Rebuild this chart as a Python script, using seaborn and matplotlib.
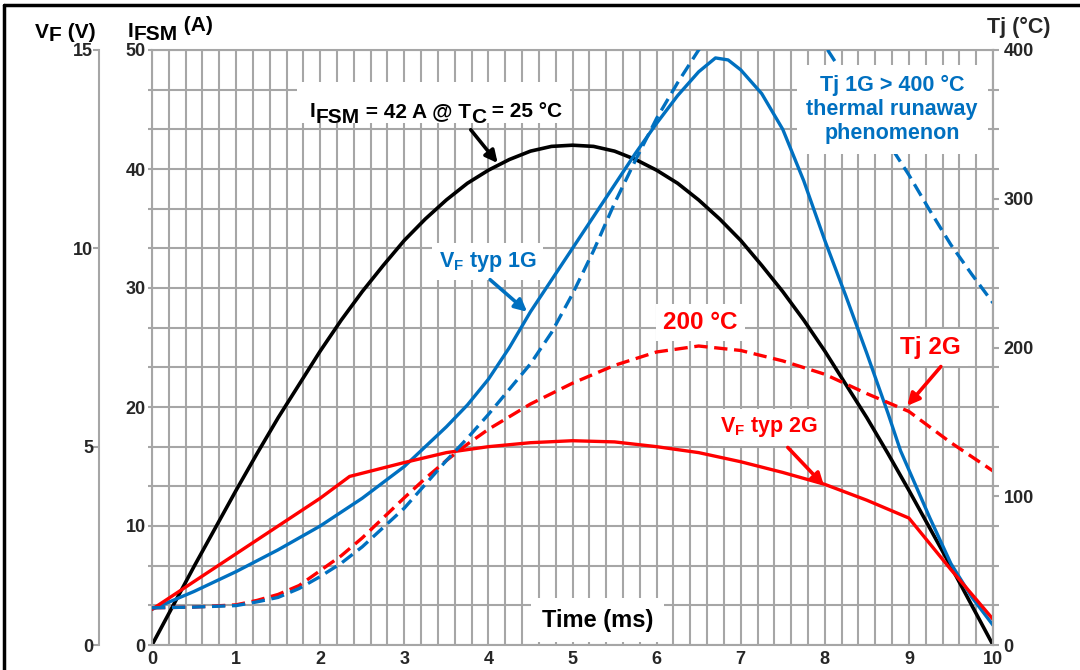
import matplotlib
matplotlib.use("Agg")
import matplotlib.pyplot as plt
from matplotlib.lines import Line2D
from matplotlib.patches import Rectangle
from matplotlib.ticker import MultipleLocator
import seaborn as sns

# ---- data ----
# surge current I_FSM (A) vs time (ms)
t_ifsm = [0, 0.25, 0.5, 0.75, 1, 1.25, 1.5, 1.75, 2, 2.25, 2.5, 2.75, 3, 3.25, 3.5, 3.75,
          4, 4.25, 4.5, 4.75, 5, 5.25, 5.5, 5.75, 6, 6.25, 6.5, 6.75, 7, 7.25, 7.5, 7.75,
          8, 8.25, 8.5, 8.75, 9, 9.25, 9.5, 9.75, 10]
ifsm = [0, 3.3, 6.6, 9.8, 13.0, 16.1, 19.1, 21.9, 24.7, 27.3, 29.7, 31.9, 34.0, 35.8, 37.4, 38.8,
        39.9, 40.8, 41.5, 41.9, 42.0, 41.9, 41.5, 40.8, 39.9, 38.8, 37.4, 35.8, 34.0, 31.9, 29.7, 27.3,
        24.7, 21.9, 19.1, 16.1, 13.0, 9.8, 6.6, 3.3, 0]

# forward voltage 1G (V)
t_vf1 = [0, 0.5, 1, 1.5, 2, 2.5, 3, 3.5, 3.75, 4, 4.25, 4.5, 4.75, 5, 5.25, 5.5, 5.75, 6, 6.25,
         6.5, 6.7, 6.85, 7, 7.25, 7.5, 7.75, 8, 8.25, 8.5, 8.75, 8.9, 9.25, 9.5, 9.75, 10]
vf_1g = [0.9, 1.35, 1.85, 2.4, 3.0, 3.7, 4.5, 5.5, 6.05, 6.7, 7.5, 8.4, 9.2, 10.0, 10.8, 11.6,
         12.4, 13.15, 13.85, 14.45, 14.8, 14.75, 14.5, 13.9, 13.0, 11.7, 10.2, 8.8, 7.35, 5.85,
         4.9, 3.2, 2.05, 1.2, 0.5]

# forward voltage 2G (V)
t_vf2 = [0, 0.5, 1, 1.5, 2, 2.35, 3, 3.5, 4, 4.5, 5, 5.5, 6, 6.5, 7, 7.5, 8, 8.5, 9, 9.5, 10]
vf_2g = [0.9, 1.6, 2.3, 3.0, 3.7, 4.25, 4.6, 4.85, 5.0, 5.1, 5.15, 5.12, 5.0, 4.85, 4.62, 4.35,
         4.05, 3.65, 3.2, 1.9, 0.65]

# junction temperature 1G (°C)
t_tj1 = [0, 0.5, 1, 1.25, 1.5, 1.75, 2, 2.25, 2.5, 3, 3.25, 3.5, 3.75, 4, 4.25, 4.5, 4.75, 5,
         5.25, 5.5, 5.75, 6, 6.25, 6.5, 6.75, 7, 7.25, 7.5, 7.75, 8, 8.25, 8.5, 8.75, 9, 9.25,
         9.5, 9.75, 10]
tj_1g = [25, 25.5, 26.5, 29, 32, 38, 46, 55, 66, 92, 108, 124, 139, 155, 172, 189, 210, 236,
         265, 297, 326, 354, 378, 400, 420, 437, 446, 445, 428, 403, 381, 359, 338, 316, 292,
         269, 249, 230]

# junction temperature 2G (°C)
t_tj2 = [0, 0.5, 1, 1.25, 1.5, 1.75, 2, 2.25, 2.5, 3, 3.25, 3.5, 3.75, 4, 4.5, 5, 5.5, 6,
         6.5, 7, 7.5, 8, 8.5, 9, 9.5, 10]
tj_2g = [25, 25.5, 27, 30, 34, 40, 50, 60, 72, 99, 112, 124, 135, 145, 162, 176, 188, 197,
         201, 198, 191, 182, 169, 157, 136, 117]

x_ticks = [0, 1, 2, 3, 4, 5, 6, 7, 8, 9, 10]
ifsm_ticks = [0, 10, 20, 30, 40, 50]
vf_ticks = [0, 5, 10, 15]
tj_ticks = [0, 100, 200, 300, 400]

BLUE = "#0070c0"
RED = "#ff0000"
GRID = "#a6a6a6"

sns.set_theme(style="white")
plt.rcParams["font.family"] = ["Liberation Sans", "DejaVu Sans"]
plt.rcParams["font.weight"] = "bold"
plt.rcParams["mathtext.fontset"] = "custom"
plt.rcParams["mathtext.rm"] = "Liberation Sans:bold"
plt.rcParams["mathtext.it"] = "Liberation Sans:bold"
plt.rcParams["mathtext.bf"] = "Liberation Sans:bold"

fig = plt.figure(figsize=(10.8, 6.7), dpi=100)
ax = fig.add_axes([152 / 1080, 25 / 670, 841 / 1080, 595 / 670])
ax_vf = ax.twinx()
ax_tj = ax.twinx()

# main axis: time / I_FSM
ax.set_xlim(0, 10)
ax.set_ylim(0, 50)
ax.set_xticks(x_ticks)
ax.set_yticks(ifsm_ticks)
ax.xaxis.set_minor_locator(MultipleLocator(0.2))
ax.yaxis.set_minor_locator(MultipleLocator(10 / 3))
ax.grid(which="both", color=GRID, lw=1.5)
ax.set_axisbelow(True)
for s in ax.spines.values():
    s.set_color(GRID)
    s.set_linewidth(1.5)
ax.tick_params(which="both", direction="out", length=3, color=GRID, width=1.5)
ax.tick_params(axis="both", labelsize=13, pad=1.5)
ax.tick_params(axis="x", which="minor", length=0)

# left V_F axis, offset (outward is in points: 38 pt ~ 53 px)
ax_vf.set_ylim(0, 15)
ax_vf.set_yticks(vf_ticks)
ax_vf.yaxis.set_ticks_position("left")
ax_vf.spines["left"].set_position(("outward", 38))
ax_vf.spines["left"].set_visible(True)
for k in ["right", "top", "bottom"]:
    ax_vf.spines[k].set_visible(False)
ax_vf.spines["left"].set_color(GRID)
ax_vf.spines["left"].set_linewidth(1.5)
ax_vf.tick_params(axis="y", direction="out", length=4, color=GRID, width=1.5, labelsize=13, pad=0.5)

# right Tj axis
ax_tj.set_ylim(0, 400)
ax_tj.set_yticks(tj_ticks)
for k in ["left", "top", "bottom"]:
    ax_tj.spines[k].set_visible(False)
ax_tj.spines["right"].set_color(GRID)
ax_tj.spines["right"].set_linewidth(1.5)
ax_tj.yaxis.set_minor_locator(MultipleLocator(400 / 15))
ax_tj.tick_params(axis="y", which="both", direction="out", length=4, color=GRID, width=1.5)
ax_tj.tick_params(axis="y", labelsize=13, pad=3.5)

for a in (ax, ax_vf, ax_tj):
    a.set_xlim(0, 10)
    a.set_xlabel("")
    a.set_ylabel("")
for a in (ax_vf, ax_tj):
    a.patch.set_visible(False)
    a.grid(False)

# curves
sns.lineplot(x=t_ifsm, y=ifsm, ax=ax, color="black", lw=2.6)
sns.lineplot(x=t_vf1, y=vf_1g, ax=ax_vf, color=BLUE, lw=2.4)
sns.lineplot(x=t_vf2, y=vf_2g, ax=ax_vf, color=RED, lw=2.4)
sns.lineplot(x=t_tj2, y=tj_2g, ax=ax_tj, color=RED, lw=2.4)
ax_tj.lines[-1].set_dashes((4, 2))
sns.lineplot(x=t_tj1, y=tj_1g, ax=ax_tj, color=BLUE, lw=2.4)
ax_tj.lines[-1].set_dashes((4, 2))
ax_tj.set_ylim(0, 400)

# annotations (placed in time / I_FSM coordinates)
tr = ax.transData


def note(txt, xy, color, size, pad=0.3):
    ax_tj.text(xy[0], xy[1], txt, transform=tr, color=color, fontsize=size, fontweight="bold",
               ha="center", va="center", zorder=5,
               bbox=dict(facecolor="white", edgecolor="none", boxstyle=f"square,pad={pad}"))


def arrow(tail, head, color):
    ax_tj.annotate("", xy=head, xytext=tail, xycoords=tr, textcoords=tr, zorder=6,
                   arrowprops=dict(arrowstyle="-|>", color=color, lw=2.6, mutation_scale=18,
                                   shrinkA=0, shrinkB=0))


def chain(parts, x, y, transform, size, color="black"):
    # parts: (text, vertical shift in points relative to previous piece), all bottom-aligned
    first = ax_tj.text(x, y, parts[0][0], transform=transform, fontsize=size, color=color,
                       ha="left", va="bottom", zorder=7, clip_on=False)
    prev = first
    for txt, dy in parts[1:]:
        prev = ax_tj.annotate(txt, xy=(1, 0), xycoords=prev, xytext=(0, dy),
                              textcoords="offset points", fontsize=size, color=color,
                              ha="left", va="bottom", zorder=7, annotation_clip=False)
    return first


# I_FSM = 42 A box
ax_tj.add_patch(Rectangle((1.72, 43.9), 3.25, 3.4, transform=tr, facecolor="white",
                          edgecolor="none", zorder=4))
chain([("I", 0), ("FSM", -4.0), (" = 42 A @ T", 4.0), ("C", -4.0), (" = 25 °C", 4.0)],
      1.88, 44.0, tr, 15)
arrow((3.79, 43.3), (4.11, 40.5), "black")

note("Tj 1G > 400 °C\nthermal runaway\nphenomenon", (8.8, 45.0), BLUE, 15.5, pad=0.45)

note(r"$V_F$ typ 1G", (3.99, 32.2), BLUE, 15.5)
arrow((4.02, 30.7), (4.46, 28.0), BLUE)

note("200 °C", (6.52, 27.1), RED, 17.5)

note("Tj 2G", (9.26, 25.0), RED, 17.5)
arrow((9.38, 23.4), (8.98, 20.1), RED)

note(r"$V_F$ typ 2G", (7.33, 18.3), RED, 15.5)
arrow((7.56, 16.6), (7.99, 13.4), RED)

note("Time (ms)", (5.3, 2.1), "black", 17, pad=0.45)

# axis titles
ff = fig.transFigure
chain([("V", 0), ("F", -2.5), (" (V)", 2.5)], 35 / 1080, 1 - 42 / 670, ff, 15)
chain([("I", 0), ("FSM", -2.5), (" (A)", 7.0)], 128 / 1080, 1 - 41 / 670, ff, 15)
fig.text(1019 / 1080, 1 - 27 / 670, "Tj (°C)", ha="center", va="center", fontsize=15.5)

# frame of the original figure
fig.add_artist(Line2D([0.004, 1], [0.993, 0.993], color="black", lw=2.5, transform=ff))
fig.add_artist(Line2D([0.004, 0.004], [0, 0.993], color="black", lw=2.5, transform=ff))

fig.savefig("out.png", dpi=100)
